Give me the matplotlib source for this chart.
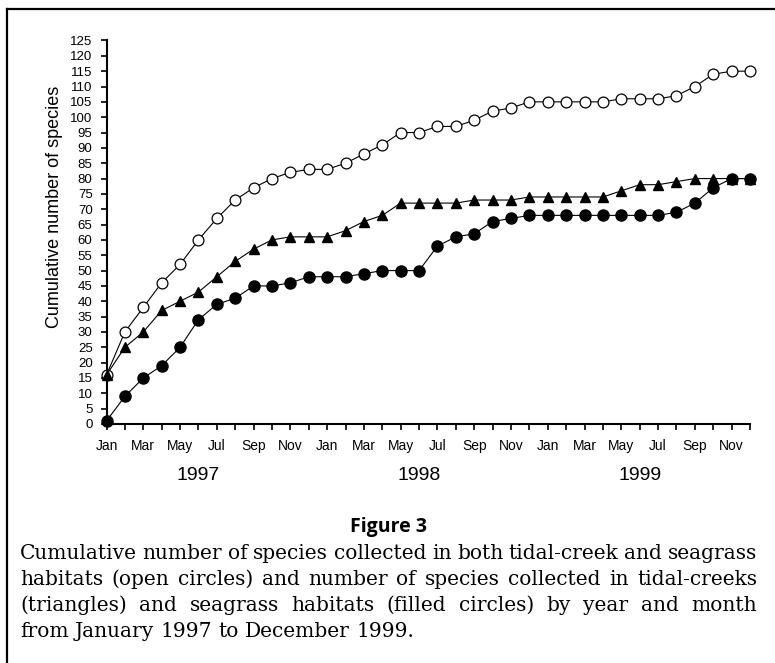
"""Cumulative species curves, Jan 1997 - Dec 1999 (Figure 3)."""
import matplotlib

matplotlib.use("Agg")
import matplotlib.pyplot as plt
from matplotlib.lines import Line2D

# cumulative species per month, Jan 1997 .. Dec 1999
both = [16, 30, 38, 46, 52, 60, 67, 73, 77, 80, 82, 83,
        83, 85, 88, 91, 95, 95, 97, 97, 99, 102, 103, 105,
        105, 105, 105, 105, 106, 106, 106, 107, 110, 114, 115, 115]
creek = [16, 25, 30, 37, 40, 43, 48, 53, 57, 60, 61, 61,
         61, 63, 66, 68, 72, 72, 72, 72, 73, 73, 73, 74,
         74, 74, 74, 74, 76, 78, 78, 79, 80, 80, 80, 80]
seagrass = [1, 9, 15, 19, 25, 34, 39, 41, 45, 45, 46, 48,
            48, 48, 49, 50, 50, 50, 58, 61, 62, 66, 67, 68,
            68, 68, 68, 68, 68, 68, 68, 69, 72, 77, 80, 80]
months = ["Jan", "Feb", "Mar", "Apr", "May", "Jun",
          "Jul", "Aug", "Sep", "Oct", "Nov", "Dec"]
years = ["1997", "1998", "1999"]

caption = [
    "Cumulative number of species collected in both tidal-creek and seagrass",
    "habitats (open circles) and number of species collected in tidal-creeks",
    "(triangles) and seagrass habitats (filled circles) by year and month",
    "from January 1997 to December 1999.",
]

W, H = 775, 663
SANS = ["Liberation Sans", "DejaVu Sans"]
SERIF = ["DejaVu Serif"]
CAP_SIZE = 14.5

fig = plt.figure(figsize=(W / 100, H / 100), dpi=100)
fig.patch.set_facecolor("white")

# frame (top and left only, the rest is cropped)
fig.add_artist(Line2D([7 / W, 1], [1 - 9 / H, 1 - 9 / H], color="black", lw=1.6))
fig.add_artist(Line2D([7 / W, 7 / W], [0, 1 - 9 / H], color="black", lw=1.6))

ax = fig.add_axes([106.5 / W, 1 - 424 / H, (750 - 106.5) / W, (424 - 40.5) / H])
x = list(range(len(both)))
ax.plot(x, both, "-o", color="black", lw=0.8, ms=7.8, mfc="white", mec="black",
        mew=0.9, clip_on=False, zorder=3)
ax.plot(x, creek, "-^", color="black", lw=0.8, ms=7.5, clip_on=False, zorder=4)
ax.plot(x, seagrass, "-o", color="black", lw=0.8, ms=8, clip_on=False, zorder=5)

ax.set_xlim(0, len(both) - 1)
ax.set_ylim(0, 125)
ax.set_yticks(range(0, 126, 5))
ax.set_xticks(x)
ax.set_xticklabels([months[i % 12] if i % 2 == 0 else "" for i in x])
for s in ("top", "right"):
    ax.spines[s].set_visible(False)
for s in ("left", "bottom"):
    ax.spines[s].set_linewidth(1.5)
ax.tick_params(axis="y", direction="out", length=4, width=1.2, pad=6, labelsize=9.5)
ax.tick_params(axis="x", direction="out", length=4, width=1.2, pad=6.5, labelsize=10)
for lab in ax.get_xticklabels() + ax.get_yticklabels():
    lab.set_family(SANS)

for i, yr in enumerate(years):
    ax.text(i * 12 + 5, -0.133, yr, transform=ax.get_xaxis_transform(),
            ha="center", va="center", fontsize=14, family=SANS)

fig.text(55 / W, 1 - 207 / H, "Cumulative number of species", rotation=90,
         ha="center", va="center", fontsize=13, family=SANS)

fig.text(388 / W, 1 - 527 / H, "Figure 3", ha="center", va="center",
         fontsize=14, fontweight="bold", family=["Open Sans", "DejaVu Sans"])

# justified caption
renderer = fig.canvas.get_renderer()
x0, x1 = 20, 757
baselines = [559, 585, 611, 637]


def text_width(s):
    t = fig.text(0, 0, s, fontsize=CAP_SIZE, family=SERIF)
    w = t.get_window_extent(renderer).width
    t.remove()
    return w


space = text_width("a a") - text_width("aa")
for k, (line, yb) in enumerate(zip(caption, baselines)):
    words = line.split()
    texts = [fig.text(0, 1 - yb / H, w, va="baseline", ha="left",
                      fontsize=CAP_SIZE, family=SERIF) for w in words]
    widths = [t.get_window_extent(renderer).width for t in texts]
    if k < len(caption) - 1:
        gap = ((x1 - x0) - sum(widths)) / (len(words) - 1)
    else:
        gap = space
    pos = x0
    for t, w in zip(texts, widths):
        t.set_x(pos / W)
        pos += w + gap

fig.savefig("out.png", dpi=100)
